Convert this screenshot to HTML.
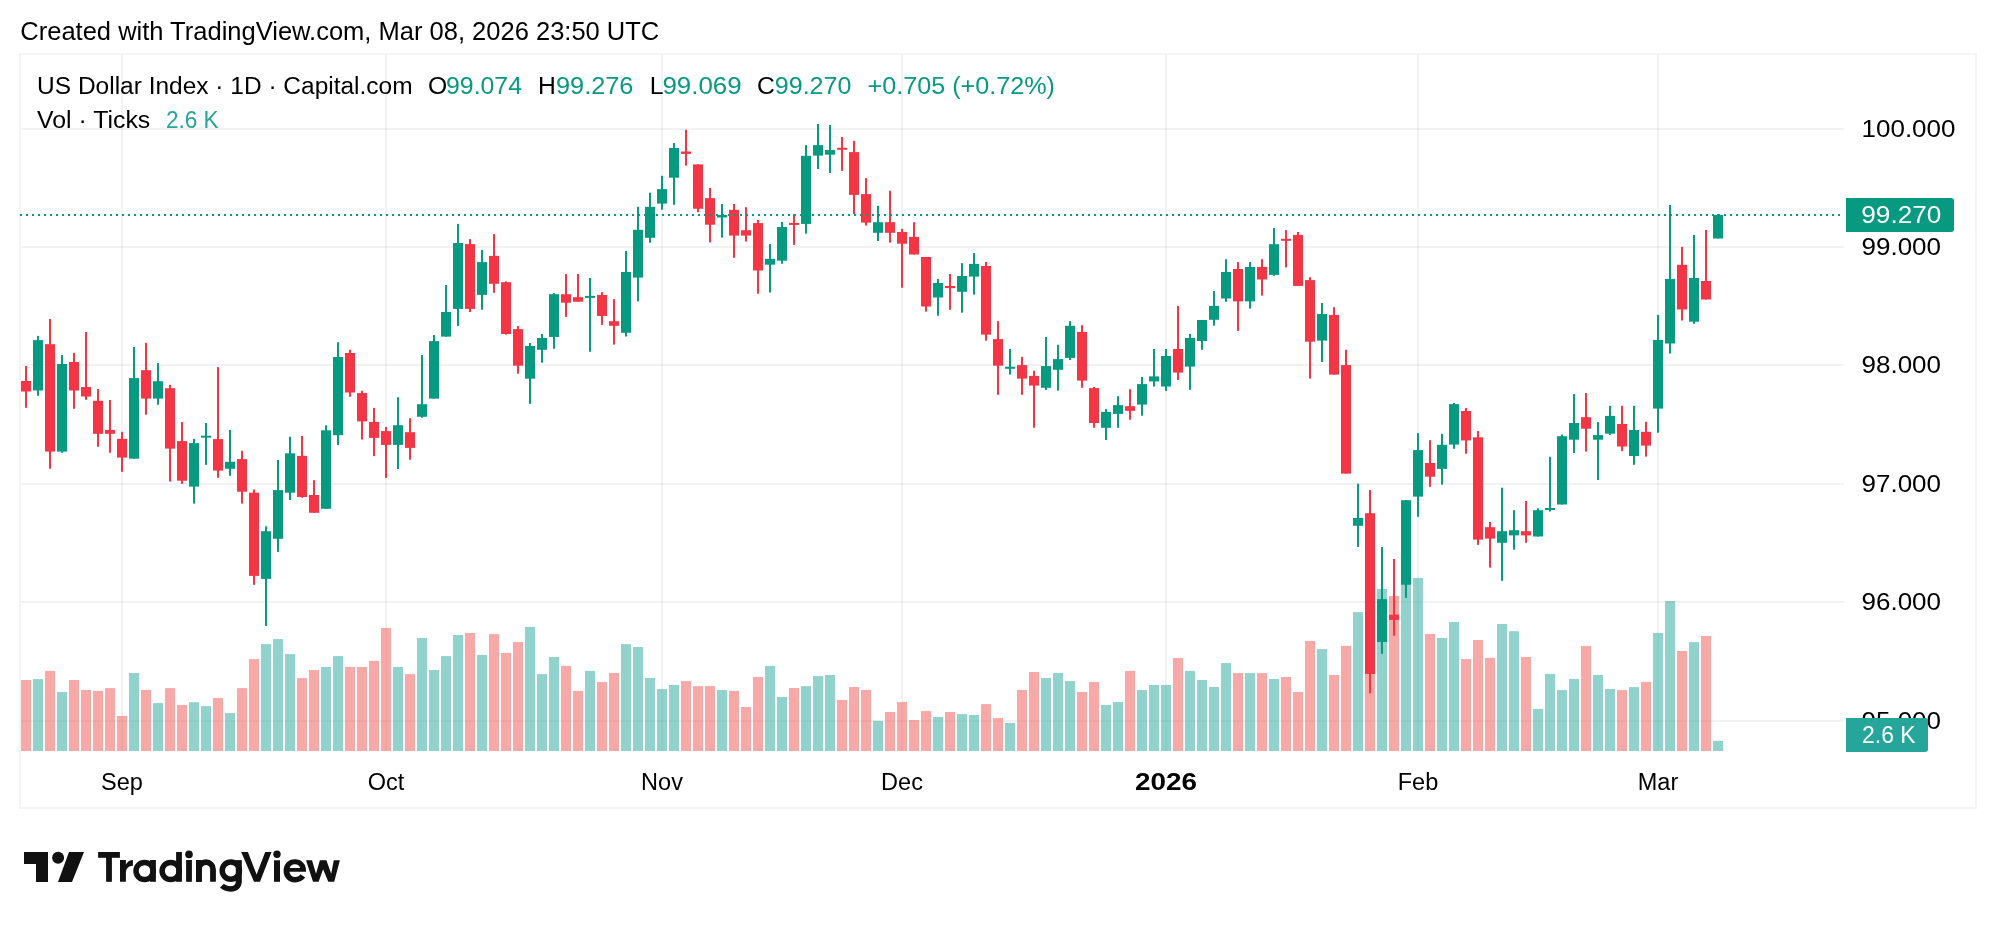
<!DOCTYPE html>
<html><head><meta charset="utf-8"><style>
html,body{margin:0;padding:0;background:#fff;width:1996px;height:928px;overflow:hidden}
svg{will-change:transform}
</style></head><body>
<svg width="1996" height="928" viewBox="0 0 1996 928" style="display:block">
<rect x="0" y="0" width="1996" height="928" fill="#ffffff"/>
<rect x="20" y="54" width="1956" height="754" fill="none" stroke="#F4F4F4" stroke-width="2"/>
<rect x="21" y="128" width="1823" height="2" fill="rgba(0,0,0,0.05)"/>
<rect x="21" y="246" width="1823" height="2" fill="rgba(0,0,0,0.05)"/>
<rect x="21" y="364" width="1823" height="2" fill="rgba(0,0,0,0.05)"/>
<rect x="21" y="483" width="1823" height="2" fill="rgba(0,0,0,0.05)"/>
<rect x="21" y="601" width="1823" height="2" fill="rgba(0,0,0,0.05)"/>
<rect x="21" y="720" width="1823" height="2" fill="rgba(0,0,0,0.05)"/>
<rect x="121" y="55" width="2" height="696" fill="rgba(0,0,0,0.05)"/>
<rect x="385" y="55" width="2" height="696" fill="rgba(0,0,0,0.05)"/>
<rect x="661" y="55" width="2" height="696" fill="rgba(0,0,0,0.05)"/>
<rect x="901" y="55" width="2" height="696" fill="rgba(0,0,0,0.05)"/>
<rect x="1165" y="55" width="2" height="696" fill="rgba(0,0,0,0.05)"/>
<rect x="1417" y="55" width="2" height="696" fill="rgba(0,0,0,0.05)"/>
<rect x="1657" y="55" width="2" height="696" fill="rgba(0,0,0,0.05)"/>
<rect x="21" y="680.0" width="10" height="71.0" fill="rgba(239,83,80,0.5)"/>
<rect x="33" y="679.1" width="10" height="71.9" fill="rgba(38,166,154,0.5)"/>
<rect x="45" y="670.9" width="10" height="80.1" fill="rgba(239,83,80,0.5)"/>
<rect x="57" y="692.0" width="10" height="59.0" fill="rgba(38,166,154,0.5)"/>
<rect x="69" y="680.0" width="10" height="71.0" fill="rgba(239,83,80,0.5)"/>
<rect x="81" y="690.0" width="10" height="61.0" fill="rgba(239,83,80,0.5)"/>
<rect x="93" y="690.9" width="10" height="60.1" fill="rgba(239,83,80,0.5)"/>
<rect x="105" y="688.1" width="10" height="62.9" fill="rgba(239,83,80,0.5)"/>
<rect x="117" y="715.9" width="10" height="35.1" fill="rgba(239,83,80,0.5)"/>
<rect x="129" y="673.0" width="10" height="78.0" fill="rgba(38,166,154,0.5)"/>
<rect x="141" y="690.0" width="10" height="61.0" fill="rgba(239,83,80,0.5)"/>
<rect x="153" y="703.1" width="10" height="47.9" fill="rgba(38,166,154,0.5)"/>
<rect x="165" y="688.1" width="10" height="62.9" fill="rgba(239,83,80,0.5)"/>
<rect x="177" y="705.0" width="10" height="46.0" fill="rgba(239,83,80,0.5)"/>
<rect x="189" y="702.2" width="10" height="48.8" fill="rgba(38,166,154,0.5)"/>
<rect x="201" y="706.1" width="10" height="44.9" fill="rgba(38,166,154,0.5)"/>
<rect x="213" y="698.0" width="10" height="53.0" fill="rgba(239,83,80,0.5)"/>
<rect x="225" y="713.1" width="10" height="37.9" fill="rgba(38,166,154,0.5)"/>
<rect x="237" y="688.1" width="10" height="62.9" fill="rgba(239,83,80,0.5)"/>
<rect x="249" y="659.1" width="10" height="91.9" fill="rgba(239,83,80,0.5)"/>
<rect x="261" y="644.1" width="10" height="106.9" fill="rgba(38,166,154,0.5)"/>
<rect x="273" y="639.1" width="10" height="111.9" fill="rgba(38,166,154,0.5)"/>
<rect x="285" y="654.1" width="10" height="96.9" fill="rgba(38,166,154,0.5)"/>
<rect x="297" y="678.1" width="10" height="72.9" fill="rgba(239,83,80,0.5)"/>
<rect x="309" y="670.0" width="10" height="81.0" fill="rgba(239,83,80,0.5)"/>
<rect x="321" y="667.0" width="10" height="84.0" fill="rgba(38,166,154,0.5)"/>
<rect x="333" y="656.1" width="10" height="94.9" fill="rgba(38,166,154,0.5)"/>
<rect x="345" y="667.0" width="10" height="84.0" fill="rgba(239,83,80,0.5)"/>
<rect x="357" y="667.0" width="10" height="84.0" fill="rgba(239,83,80,0.5)"/>
<rect x="369" y="660.9" width="10" height="90.1" fill="rgba(239,83,80,0.5)"/>
<rect x="381" y="628.0" width="10" height="123.0" fill="rgba(239,83,80,0.5)"/>
<rect x="393" y="667.0" width="10" height="84.0" fill="rgba(38,166,154,0.5)"/>
<rect x="405" y="674.1" width="10" height="76.9" fill="rgba(239,83,80,0.5)"/>
<rect x="417" y="638.0" width="10" height="113.0" fill="rgba(38,166,154,0.5)"/>
<rect x="429" y="670.0" width="10" height="81.0" fill="rgba(38,166,154,0.5)"/>
<rect x="441" y="656.1" width="10" height="94.9" fill="rgba(38,166,154,0.5)"/>
<rect x="453" y="635.0" width="10" height="116.0" fill="rgba(38,166,154,0.5)"/>
<rect x="465" y="633.0" width="10" height="118.0" fill="rgba(239,83,80,0.5)"/>
<rect x="477" y="655.0" width="10" height="96.0" fill="rgba(38,166,154,0.5)"/>
<rect x="489" y="634.1" width="10" height="116.9" fill="rgba(239,83,80,0.5)"/>
<rect x="501" y="653.0" width="10" height="98.0" fill="rgba(239,83,80,0.5)"/>
<rect x="513" y="642.0" width="10" height="109.0" fill="rgba(239,83,80,0.5)"/>
<rect x="525" y="626.9" width="10" height="124.1" fill="rgba(38,166,154,0.5)"/>
<rect x="537" y="674.1" width="10" height="76.9" fill="rgba(38,166,154,0.5)"/>
<rect x="549" y="657.0" width="10" height="94.0" fill="rgba(38,166,154,0.5)"/>
<rect x="561" y="665.9" width="10" height="85.1" fill="rgba(239,83,80,0.5)"/>
<rect x="573" y="690.9" width="10" height="60.1" fill="rgba(239,83,80,0.5)"/>
<rect x="585" y="670.9" width="10" height="80.1" fill="rgba(38,166,154,0.5)"/>
<rect x="597" y="682.0" width="10" height="69.0" fill="rgba(239,83,80,0.5)"/>
<rect x="609" y="673.0" width="10" height="78.0" fill="rgba(239,83,80,0.5)"/>
<rect x="621" y="644.1" width="10" height="106.9" fill="rgba(38,166,154,0.5)"/>
<rect x="633" y="647.0" width="10" height="104.0" fill="rgba(38,166,154,0.5)"/>
<rect x="645" y="678.0" width="10" height="73.0" fill="rgba(38,166,154,0.5)"/>
<rect x="657" y="689.1" width="10" height="61.9" fill="rgba(38,166,154,0.5)"/>
<rect x="669" y="685.0" width="10" height="66.0" fill="rgba(38,166,154,0.5)"/>
<rect x="681" y="681.1" width="10" height="69.9" fill="rgba(239,83,80,0.5)"/>
<rect x="693" y="686.1" width="10" height="64.9" fill="rgba(239,83,80,0.5)"/>
<rect x="705" y="686.1" width="10" height="64.9" fill="rgba(239,83,80,0.5)"/>
<rect x="717" y="690.0" width="10" height="61.0" fill="rgba(38,166,154,0.5)"/>
<rect x="729" y="690.9" width="10" height="60.1" fill="rgba(239,83,80,0.5)"/>
<rect x="741" y="707.0" width="10" height="44.0" fill="rgba(239,83,80,0.5)"/>
<rect x="753" y="677.0" width="10" height="74.0" fill="rgba(239,83,80,0.5)"/>
<rect x="765" y="665.9" width="10" height="85.1" fill="rgba(38,166,154,0.5)"/>
<rect x="777" y="697.0" width="10" height="54.0" fill="rgba(38,166,154,0.5)"/>
<rect x="789" y="688.0" width="10" height="63.0" fill="rgba(239,83,80,0.5)"/>
<rect x="801" y="686.1" width="10" height="64.9" fill="rgba(38,166,154,0.5)"/>
<rect x="813" y="676.1" width="10" height="74.9" fill="rgba(38,166,154,0.5)"/>
<rect x="825" y="675.0" width="10" height="76.0" fill="rgba(38,166,154,0.5)"/>
<rect x="837" y="700.0" width="10" height="51.0" fill="rgba(239,83,80,0.5)"/>
<rect x="849" y="687.0" width="10" height="64.0" fill="rgba(239,83,80,0.5)"/>
<rect x="861" y="690.0" width="10" height="61.0" fill="rgba(239,83,80,0.5)"/>
<rect x="873" y="720.9" width="10" height="30.1" fill="rgba(38,166,154,0.5)"/>
<rect x="885" y="712.0" width="10" height="39.0" fill="rgba(239,83,80,0.5)"/>
<rect x="897" y="702.0" width="10" height="49.0" fill="rgba(239,83,80,0.5)"/>
<rect x="909" y="720.0" width="10" height="31.0" fill="rgba(239,83,80,0.5)"/>
<rect x="921" y="711.1" width="10" height="39.9" fill="rgba(239,83,80,0.5)"/>
<rect x="933" y="717.0" width="10" height="34.0" fill="rgba(38,166,154,0.5)"/>
<rect x="945" y="712.0" width="10" height="39.0" fill="rgba(239,83,80,0.5)"/>
<rect x="957" y="714.1" width="10" height="36.9" fill="rgba(38,166,154,0.5)"/>
<rect x="969" y="715.0" width="10" height="36.0" fill="rgba(38,166,154,0.5)"/>
<rect x="981" y="704.1" width="10" height="46.9" fill="rgba(239,83,80,0.5)"/>
<rect x="993" y="718.0" width="10" height="33.0" fill="rgba(239,83,80,0.5)"/>
<rect x="1005" y="723.0" width="10" height="28.0" fill="rgba(38,166,154,0.5)"/>
<rect x="1017" y="690.0" width="10" height="61.0" fill="rgba(239,83,80,0.5)"/>
<rect x="1029" y="672.0" width="10" height="79.0" fill="rgba(239,83,80,0.5)"/>
<rect x="1041" y="678.0" width="10" height="73.0" fill="rgba(38,166,154,0.5)"/>
<rect x="1053" y="673.0" width="10" height="78.0" fill="rgba(38,166,154,0.5)"/>
<rect x="1065" y="681.1" width="10" height="69.9" fill="rgba(38,166,154,0.5)"/>
<rect x="1077" y="692.0" width="10" height="59.0" fill="rgba(239,83,80,0.5)"/>
<rect x="1089" y="682.0" width="10" height="69.0" fill="rgba(239,83,80,0.5)"/>
<rect x="1101" y="705.0" width="10" height="46.0" fill="rgba(38,166,154,0.5)"/>
<rect x="1113" y="702.0" width="10" height="49.0" fill="rgba(38,166,154,0.5)"/>
<rect x="1125" y="670.9" width="10" height="80.1" fill="rgba(239,83,80,0.5)"/>
<rect x="1137" y="690.0" width="10" height="61.0" fill="rgba(38,166,154,0.5)"/>
<rect x="1149" y="685.0" width="10" height="66.0" fill="rgba(38,166,154,0.5)"/>
<rect x="1161" y="685.0" width="10" height="66.0" fill="rgba(38,166,154,0.5)"/>
<rect x="1173" y="658.0" width="10" height="93.0" fill="rgba(239,83,80,0.5)"/>
<rect x="1185" y="670.9" width="10" height="80.1" fill="rgba(38,166,154,0.5)"/>
<rect x="1197" y="680.0" width="10" height="71.0" fill="rgba(38,166,154,0.5)"/>
<rect x="1209" y="687.0" width="10" height="64.0" fill="rgba(38,166,154,0.5)"/>
<rect x="1221" y="663.1" width="10" height="87.9" fill="rgba(38,166,154,0.5)"/>
<rect x="1233" y="673.1" width="10" height="77.9" fill="rgba(239,83,80,0.5)"/>
<rect x="1245" y="673.1" width="10" height="77.9" fill="rgba(38,166,154,0.5)"/>
<rect x="1257" y="673.1" width="10" height="77.9" fill="rgba(239,83,80,0.5)"/>
<rect x="1269" y="679.0" width="10" height="72.0" fill="rgba(38,166,154,0.5)"/>
<rect x="1281" y="677.0" width="10" height="74.0" fill="rgba(239,83,80,0.5)"/>
<rect x="1293" y="692.0" width="10" height="59.0" fill="rgba(239,83,80,0.5)"/>
<rect x="1305" y="641.0" width="10" height="110.0" fill="rgba(239,83,80,0.5)"/>
<rect x="1317" y="649.1" width="10" height="101.9" fill="rgba(38,166,154,0.5)"/>
<rect x="1329" y="675.0" width="10" height="76.0" fill="rgba(239,83,80,0.5)"/>
<rect x="1341" y="645.9" width="10" height="105.1" fill="rgba(239,83,80,0.5)"/>
<rect x="1353" y="612.1" width="10" height="138.9" fill="rgba(38,166,154,0.5)"/>
<rect x="1365" y="673.7" width="10" height="77.3" fill="rgba(239,83,80,0.5)"/>
<rect x="1377" y="588.9" width="10" height="162.1" fill="rgba(38,166,154,0.5)"/>
<rect x="1389" y="595.9" width="10" height="155.1" fill="rgba(239,83,80,0.5)"/>
<rect x="1401" y="584.6" width="10" height="166.4" fill="rgba(38,166,154,0.5)"/>
<rect x="1413" y="578.0" width="10" height="173.0" fill="rgba(38,166,154,0.5)"/>
<rect x="1425" y="634.0" width="10" height="117.0" fill="rgba(239,83,80,0.5)"/>
<rect x="1437" y="638.0" width="10" height="113.0" fill="rgba(38,166,154,0.5)"/>
<rect x="1449" y="622.0" width="10" height="129.0" fill="rgba(38,166,154,0.5)"/>
<rect x="1461" y="659.1" width="10" height="91.9" fill="rgba(239,83,80,0.5)"/>
<rect x="1473" y="640.0" width="10" height="111.0" fill="rgba(239,83,80,0.5)"/>
<rect x="1485" y="657.9" width="10" height="93.1" fill="rgba(239,83,80,0.5)"/>
<rect x="1497" y="624.0" width="10" height="127.0" fill="rgba(38,166,154,0.5)"/>
<rect x="1509" y="631.2" width="10" height="119.8" fill="rgba(38,166,154,0.5)"/>
<rect x="1521" y="657.0" width="10" height="94.0" fill="rgba(239,83,80,0.5)"/>
<rect x="1533" y="708.9" width="10" height="42.1" fill="rgba(38,166,154,0.5)"/>
<rect x="1545" y="673.9" width="10" height="77.1" fill="rgba(38,166,154,0.5)"/>
<rect x="1557" y="690.1" width="10" height="60.9" fill="rgba(38,166,154,0.5)"/>
<rect x="1569" y="678.9" width="10" height="72.1" fill="rgba(38,166,154,0.5)"/>
<rect x="1581" y="646.0" width="10" height="105.0" fill="rgba(239,83,80,0.5)"/>
<rect x="1593" y="675.0" width="10" height="76.0" fill="rgba(38,166,154,0.5)"/>
<rect x="1605" y="689.0" width="10" height="62.0" fill="rgba(38,166,154,0.5)"/>
<rect x="1617" y="690.1" width="10" height="60.9" fill="rgba(239,83,80,0.5)"/>
<rect x="1629" y="687.1" width="10" height="63.9" fill="rgba(38,166,154,0.5)"/>
<rect x="1641" y="681.9" width="10" height="69.1" fill="rgba(239,83,80,0.5)"/>
<rect x="1653" y="633.0" width="10" height="118.0" fill="rgba(38,166,154,0.5)"/>
<rect x="1665" y="601.0" width="10" height="150.0" fill="rgba(38,166,154,0.5)"/>
<rect x="1677" y="651.0" width="10" height="100.0" fill="rgba(239,83,80,0.5)"/>
<rect x="1689" y="642.1" width="10" height="108.9" fill="rgba(38,166,154,0.5)"/>
<rect x="1701" y="636.0" width="10" height="115.0" fill="rgba(239,83,80,0.5)"/>
<rect x="1713" y="740.9" width="10" height="10.1" fill="rgba(38,166,154,0.5)"/>
<rect x="25" y="365.9" width="2" height="41.9" fill="#F23645"/>
<rect x="21" y="381.0" width="10" height="10.5" fill="#F23645"/>
<rect x="37" y="335.9" width="2" height="59.9" fill="#089981"/>
<rect x="33" y="340.1" width="10" height="50.4" fill="#089981"/>
<rect x="49" y="319.0" width="2" height="149.7" fill="#F23645"/>
<rect x="45" y="344.2" width="10" height="107.4" fill="#F23645"/>
<rect x="61" y="355.1" width="2" height="97.7" fill="#089981"/>
<rect x="57" y="364.0" width="10" height="87.6" fill="#089981"/>
<rect x="73" y="352.9" width="2" height="55.9" fill="#F23645"/>
<rect x="69" y="362.0" width="10" height="28.5" fill="#F23645"/>
<rect x="85" y="332.0" width="2" height="67.8" fill="#F23645"/>
<rect x="81" y="387.0" width="10" height="9.5" fill="#F23645"/>
<rect x="97" y="389.0" width="2" height="57.8" fill="#F23645"/>
<rect x="93" y="400.8" width="10" height="33.0" fill="#F23645"/>
<rect x="109" y="400.0" width="2" height="52.8" fill="#F23645"/>
<rect x="105" y="429.9" width="10" height="3.9" fill="#F23645"/>
<rect x="121" y="431.8" width="2" height="40.0" fill="#F23645"/>
<rect x="117" y="438.8" width="10" height="18.8" fill="#F23645"/>
<rect x="133" y="347.0" width="2" height="111.7" fill="#089981"/>
<rect x="129" y="378.1" width="10" height="80.6" fill="#089981"/>
<rect x="145" y="342.9" width="2" height="71.8" fill="#F23645"/>
<rect x="141" y="370.2" width="10" height="28.4" fill="#F23645"/>
<rect x="157" y="363.1" width="2" height="41.6" fill="#089981"/>
<rect x="153" y="381.2" width="10" height="17.4" fill="#089981"/>
<rect x="169" y="384.9" width="2" height="96.7" fill="#F23645"/>
<rect x="165" y="388.2" width="10" height="60.4" fill="#F23645"/>
<rect x="181" y="422.1" width="2" height="61.7" fill="#F23645"/>
<rect x="177" y="441.1" width="10" height="39.6" fill="#F23645"/>
<rect x="193" y="438.9" width="2" height="64.7" fill="#089981"/>
<rect x="189" y="443.1" width="10" height="43.5" fill="#089981"/>
<rect x="205" y="423.0" width="2" height="41.9" fill="#089981"/>
<rect x="201" y="435.7" width="10" height="2.0" fill="#089981"/>
<rect x="217" y="367.1" width="2" height="110.7" fill="#F23645"/>
<rect x="213" y="439.1" width="10" height="31.5" fill="#F23645"/>
<rect x="229" y="430.0" width="2" height="45.8" fill="#089981"/>
<rect x="225" y="461.8" width="10" height="7.0" fill="#089981"/>
<rect x="241" y="450.8" width="2" height="52.8" fill="#F23645"/>
<rect x="237" y="459.1" width="10" height="32.6" fill="#F23645"/>
<rect x="253" y="489.5" width="2" height="95.3" fill="#F23645"/>
<rect x="249" y="492.7" width="10" height="83.2" fill="#F23645"/>
<rect x="265" y="526.3" width="2" height="99.6" fill="#089981"/>
<rect x="261" y="531.2" width="10" height="47.7" fill="#089981"/>
<rect x="277" y="459.9" width="2" height="92.0" fill="#089981"/>
<rect x="273" y="490.1" width="10" height="48.7" fill="#089981"/>
<rect x="289" y="436.8" width="2" height="63.2" fill="#089981"/>
<rect x="285" y="453.3" width="10" height="39.4" fill="#089981"/>
<rect x="301" y="435.9" width="2" height="61.8" fill="#F23645"/>
<rect x="297" y="455.9" width="10" height="41.1" fill="#F23645"/>
<rect x="313" y="480.2" width="2" height="32.6" fill="#F23645"/>
<rect x="309" y="495.0" width="10" height="17.8" fill="#F23645"/>
<rect x="325" y="425.3" width="2" height="83.5" fill="#089981"/>
<rect x="321" y="430.3" width="10" height="78.5" fill="#089981"/>
<rect x="337" y="342.2" width="2" height="102.9" fill="#089981"/>
<rect x="333" y="357.0" width="10" height="78.2" fill="#089981"/>
<rect x="349" y="349.7" width="2" height="47.0" fill="#F23645"/>
<rect x="345" y="353.0" width="10" height="39.5" fill="#F23645"/>
<rect x="361" y="390.8" width="2" height="48.7" fill="#F23645"/>
<rect x="357" y="393.1" width="10" height="28.3" fill="#F23645"/>
<rect x="373" y="407.9" width="2" height="48.2" fill="#F23645"/>
<rect x="369" y="421.9" width="10" height="16.0" fill="#F23645"/>
<rect x="385" y="426.9" width="2" height="51.0" fill="#F23645"/>
<rect x="381" y="431.1" width="10" height="13.8" fill="#F23645"/>
<rect x="397" y="397.2" width="2" height="71.8" fill="#089981"/>
<rect x="393" y="425.2" width="10" height="19.7" fill="#089981"/>
<rect x="409" y="418.2" width="2" height="41.5" fill="#F23645"/>
<rect x="405" y="432.2" width="10" height="15.7" fill="#F23645"/>
<rect x="421" y="355.1" width="2" height="62.6" fill="#089981"/>
<rect x="417" y="404.2" width="10" height="12.6" fill="#089981"/>
<rect x="433" y="335.0" width="2" height="63.6" fill="#089981"/>
<rect x="429" y="341.1" width="10" height="57.5" fill="#089981"/>
<rect x="445" y="285.0" width="2" height="51.6" fill="#089981"/>
<rect x="441" y="312.0" width="10" height="24.6" fill="#089981"/>
<rect x="457" y="223.9" width="2" height="102.1" fill="#089981"/>
<rect x="453" y="243.0" width="10" height="65.9" fill="#089981"/>
<rect x="469" y="239.1" width="2" height="72.9" fill="#F23645"/>
<rect x="465" y="244.1" width="10" height="64.8" fill="#F23645"/>
<rect x="481" y="250.0" width="2" height="59.7" fill="#089981"/>
<rect x="477" y="262.1" width="10" height="32.8" fill="#089981"/>
<rect x="493" y="234.0" width="2" height="58.8" fill="#F23645"/>
<rect x="489" y="255.9" width="10" height="27.9" fill="#F23645"/>
<rect x="505" y="281.4" width="2" height="53.2" fill="#F23645"/>
<rect x="501" y="282.2" width="10" height="51.8" fill="#F23645"/>
<rect x="517" y="326.1" width="2" height="47.6" fill="#F23645"/>
<rect x="513" y="329.1" width="10" height="36.6" fill="#F23645"/>
<rect x="529" y="343.0" width="2" height="60.8" fill="#089981"/>
<rect x="525" y="346.0" width="10" height="32.7" fill="#089981"/>
<rect x="541" y="334.0" width="2" height="28.7" fill="#089981"/>
<rect x="537" y="338.0" width="10" height="11.8" fill="#089981"/>
<rect x="553" y="293.2" width="2" height="55.6" fill="#089981"/>
<rect x="549" y="294.2" width="10" height="42.8" fill="#089981"/>
<rect x="565" y="274.0" width="2" height="42.9" fill="#F23645"/>
<rect x="561" y="294.2" width="10" height="8.5" fill="#F23645"/>
<rect x="577" y="274.0" width="2" height="27.7" fill="#F23645"/>
<rect x="573" y="297.2" width="10" height="4.5" fill="#F23645"/>
<rect x="589" y="278.0" width="2" height="73.8" fill="#089981"/>
<rect x="585" y="295.9" width="10" height="2.0" fill="#089981"/>
<rect x="601" y="292.2" width="2" height="32.7" fill="#F23645"/>
<rect x="597" y="295.0" width="10" height="20.9" fill="#F23645"/>
<rect x="613" y="299.1" width="2" height="45.5" fill="#F23645"/>
<rect x="609" y="321.2" width="10" height="4.6" fill="#F23645"/>
<rect x="625" y="250.9" width="2" height="85.6" fill="#089981"/>
<rect x="621" y="272.0" width="10" height="60.8" fill="#089981"/>
<rect x="637" y="206.8" width="2" height="94.5" fill="#089981"/>
<rect x="633" y="229.8" width="10" height="47.8" fill="#089981"/>
<rect x="649" y="192.7" width="2" height="50.0" fill="#089981"/>
<rect x="645" y="206.8" width="10" height="31.0" fill="#089981"/>
<rect x="661" y="175.8" width="2" height="33.9" fill="#089981"/>
<rect x="657" y="189.1" width="10" height="14.5" fill="#089981"/>
<rect x="673" y="143.0" width="2" height="61.8" fill="#089981"/>
<rect x="669" y="147.9" width="10" height="29.8" fill="#089981"/>
<rect x="685" y="129.7" width="2" height="35.9" fill="#F23645"/>
<rect x="681" y="151.5" width="10" height="2.4" fill="#F23645"/>
<rect x="697" y="164.4" width="2" height="47.7" fill="#F23645"/>
<rect x="693" y="164.4" width="10" height="44.3" fill="#F23645"/>
<rect x="709" y="187.9" width="2" height="54.5" fill="#F23645"/>
<rect x="705" y="198.1" width="10" height="26.6" fill="#F23645"/>
<rect x="721" y="204.1" width="2" height="33.5" fill="#089981"/>
<rect x="717" y="215.0" width="10" height="2.5" fill="#089981"/>
<rect x="733" y="203.9" width="2" height="53.9" fill="#F23645"/>
<rect x="729" y="209.8" width="10" height="25.8" fill="#F23645"/>
<rect x="745" y="207.2" width="2" height="34.3" fill="#F23645"/>
<rect x="741" y="230.2" width="10" height="5.4" fill="#F23645"/>
<rect x="757" y="220.0" width="2" height="73.7" fill="#F23645"/>
<rect x="753" y="223.1" width="10" height="47.4" fill="#F23645"/>
<rect x="769" y="244.1" width="2" height="48.4" fill="#089981"/>
<rect x="765" y="258.8" width="10" height="5.9" fill="#089981"/>
<rect x="781" y="221.9" width="2" height="41.8" fill="#089981"/>
<rect x="777" y="227.0" width="10" height="33.7" fill="#089981"/>
<rect x="793" y="214.1" width="2" height="30.8" fill="#F23645"/>
<rect x="789" y="222.9" width="10" height="2.0" fill="#F23645"/>
<rect x="805" y="145.1" width="2" height="88.6" fill="#089981"/>
<rect x="801" y="155.8" width="10" height="68.1" fill="#089981"/>
<rect x="817" y="123.9" width="2" height="45.1" fill="#089981"/>
<rect x="813" y="145.1" width="10" height="10.5" fill="#089981"/>
<rect x="829" y="124.9" width="2" height="48.0" fill="#089981"/>
<rect x="825" y="150.0" width="10" height="4.7" fill="#089981"/>
<rect x="841" y="137.0" width="2" height="33.9" fill="#F23645"/>
<rect x="837" y="147.8" width="10" height="2.0" fill="#F23645"/>
<rect x="853" y="140.9" width="2" height="73.1" fill="#F23645"/>
<rect x="849" y="152.1" width="10" height="42.8" fill="#F23645"/>
<rect x="865" y="178.1" width="2" height="47.5" fill="#F23645"/>
<rect x="861" y="194.1" width="10" height="28.5" fill="#F23645"/>
<rect x="877" y="205.8" width="2" height="35.2" fill="#089981"/>
<rect x="873" y="222.2" width="10" height="10.6" fill="#089981"/>
<rect x="889" y="190.8" width="2" height="51.8" fill="#F23645"/>
<rect x="885" y="222.2" width="10" height="10.6" fill="#F23645"/>
<rect x="901" y="228.9" width="2" height="58.8" fill="#F23645"/>
<rect x="897" y="232.0" width="10" height="11.7" fill="#F23645"/>
<rect x="913" y="222.2" width="2" height="32.3" fill="#F23645"/>
<rect x="909" y="236.9" width="10" height="17.6" fill="#F23645"/>
<rect x="925" y="257.0" width="2" height="54.6" fill="#F23645"/>
<rect x="921" y="257.0" width="10" height="49.5" fill="#F23645"/>
<rect x="937" y="278.9" width="2" height="36.8" fill="#089981"/>
<rect x="933" y="283.0" width="10" height="14.5" fill="#089981"/>
<rect x="949" y="274.0" width="2" height="35.8" fill="#F23645"/>
<rect x="945" y="286.0" width="10" height="2.1" fill="#F23645"/>
<rect x="961" y="263.1" width="2" height="49.6" fill="#089981"/>
<rect x="957" y="276.0" width="10" height="15.8" fill="#089981"/>
<rect x="973" y="253.1" width="2" height="41.5" fill="#089981"/>
<rect x="969" y="263.9" width="10" height="12.7" fill="#089981"/>
<rect x="985" y="261.9" width="2" height="78.8" fill="#F23645"/>
<rect x="981" y="266.0" width="10" height="68.6" fill="#F23645"/>
<rect x="997" y="321.1" width="2" height="73.7" fill="#F23645"/>
<rect x="993" y="339.1" width="10" height="26.6" fill="#F23645"/>
<rect x="1009" y="348.9" width="2" height="25.6" fill="#089981"/>
<rect x="1005" y="366.7" width="10" height="2.1" fill="#089981"/>
<rect x="1021" y="356.9" width="2" height="37.9" fill="#F23645"/>
<rect x="1017" y="365.1" width="10" height="13.5" fill="#F23645"/>
<rect x="1033" y="370.8" width="2" height="56.9" fill="#F23645"/>
<rect x="1029" y="375.9" width="10" height="9.7" fill="#F23645"/>
<rect x="1045" y="337.0" width="2" height="52.9" fill="#089981"/>
<rect x="1041" y="366.1" width="10" height="21.7" fill="#089981"/>
<rect x="1057" y="344.8" width="2" height="45.9" fill="#089981"/>
<rect x="1053" y="359.1" width="10" height="10.7" fill="#089981"/>
<rect x="1069" y="321.1" width="2" height="38.9" fill="#089981"/>
<rect x="1065" y="325.8" width="10" height="32.1" fill="#089981"/>
<rect x="1081" y="325.2" width="2" height="62.6" fill="#F23645"/>
<rect x="1077" y="331.9" width="10" height="48.7" fill="#F23645"/>
<rect x="1093" y="387.0" width="2" height="40.8" fill="#F23645"/>
<rect x="1089" y="388.1" width="10" height="34.9" fill="#F23645"/>
<rect x="1105" y="409.1" width="2" height="30.9" fill="#089981"/>
<rect x="1101" y="411.9" width="10" height="15.9" fill="#089981"/>
<rect x="1117" y="396.2" width="2" height="31.6" fill="#089981"/>
<rect x="1113" y="405.1" width="10" height="8.8" fill="#089981"/>
<rect x="1129" y="389.2" width="2" height="30.5" fill="#F23645"/>
<rect x="1125" y="406.2" width="10" height="4.6" fill="#F23645"/>
<rect x="1141" y="377.0" width="2" height="38.7" fill="#089981"/>
<rect x="1137" y="384.1" width="10" height="20.5" fill="#089981"/>
<rect x="1153" y="349.0" width="2" height="37.5" fill="#089981"/>
<rect x="1149" y="376.4" width="10" height="5.0" fill="#089981"/>
<rect x="1165" y="349.0" width="2" height="41.9" fill="#089981"/>
<rect x="1161" y="356.0" width="10" height="30.5" fill="#089981"/>
<rect x="1177" y="305.9" width="2" height="74.0" fill="#F23645"/>
<rect x="1173" y="349.0" width="10" height="23.6" fill="#F23645"/>
<rect x="1189" y="333.9" width="2" height="55.9" fill="#089981"/>
<rect x="1185" y="337.9" width="10" height="28.7" fill="#089981"/>
<rect x="1201" y="320.0" width="2" height="29.8" fill="#089981"/>
<rect x="1197" y="320.0" width="10" height="21.0" fill="#089981"/>
<rect x="1213" y="291.1" width="2" height="34.6" fill="#089981"/>
<rect x="1209" y="305.9" width="10" height="13.9" fill="#089981"/>
<rect x="1225" y="259.2" width="2" height="42.6" fill="#089981"/>
<rect x="1221" y="272.0" width="10" height="26.5" fill="#089981"/>
<rect x="1237" y="262.1" width="2" height="68.8" fill="#F23645"/>
<rect x="1233" y="269.0" width="10" height="32.4" fill="#F23645"/>
<rect x="1249" y="262.1" width="2" height="46.5" fill="#089981"/>
<rect x="1245" y="266.9" width="10" height="34.5" fill="#089981"/>
<rect x="1261" y="259.2" width="2" height="36.4" fill="#F23645"/>
<rect x="1257" y="266.9" width="10" height="12.6" fill="#F23645"/>
<rect x="1273" y="228.1" width="2" height="47.7" fill="#089981"/>
<rect x="1269" y="244.2" width="10" height="30.7" fill="#089981"/>
<rect x="1285" y="230.1" width="2" height="37.4" fill="#F23645"/>
<rect x="1281" y="238.8" width="10" height="2.0" fill="#F23645"/>
<rect x="1297" y="232.0" width="2" height="53.9" fill="#F23645"/>
<rect x="1293" y="234.9" width="10" height="51.0" fill="#F23645"/>
<rect x="1309" y="277.2" width="2" height="101.4" fill="#F23645"/>
<rect x="1305" y="280.1" width="10" height="61.6" fill="#F23645"/>
<rect x="1321" y="303.0" width="2" height="58.9" fill="#089981"/>
<rect x="1317" y="314.0" width="10" height="26.6" fill="#089981"/>
<rect x="1333" y="307.2" width="2" height="67.4" fill="#F23645"/>
<rect x="1329" y="314.9" width="10" height="59.7" fill="#F23645"/>
<rect x="1345" y="349.8" width="2" height="123.8" fill="#F23645"/>
<rect x="1341" y="365.1" width="10" height="108.5" fill="#F23645"/>
<rect x="1357" y="483.6" width="2" height="63.3" fill="#089981"/>
<rect x="1353" y="517.9" width="10" height="7.9" fill="#089981"/>
<rect x="1369" y="490.0" width="2" height="203.4" fill="#F23645"/>
<rect x="1365" y="513.2" width="10" height="160.8" fill="#F23645"/>
<rect x="1381" y="547.1" width="2" height="106.7" fill="#089981"/>
<rect x="1377" y="599.1" width="10" height="42.9" fill="#089981"/>
<rect x="1393" y="559.0" width="2" height="76.8" fill="#F23645"/>
<rect x="1389" y="614.7" width="10" height="5.2" fill="#F23645"/>
<rect x="1405" y="500.2" width="2" height="97.7" fill="#089981"/>
<rect x="1401" y="500.2" width="10" height="84.6" fill="#089981"/>
<rect x="1417" y="433.1" width="2" height="83.7" fill="#089981"/>
<rect x="1413" y="450.1" width="10" height="46.5" fill="#089981"/>
<rect x="1429" y="440.2" width="2" height="46.6" fill="#F23645"/>
<rect x="1425" y="463.0" width="10" height="13.7" fill="#F23645"/>
<rect x="1441" y="433.8" width="2" height="50.8" fill="#089981"/>
<rect x="1437" y="444.8" width="10" height="24.1" fill="#089981"/>
<rect x="1453" y="403.0" width="2" height="45.8" fill="#089981"/>
<rect x="1449" y="404.1" width="10" height="40.5" fill="#089981"/>
<rect x="1465" y="407.9" width="2" height="45.8" fill="#F23645"/>
<rect x="1461" y="411.0" width="10" height="29.4" fill="#F23645"/>
<rect x="1477" y="431.0" width="2" height="113.9" fill="#F23645"/>
<rect x="1473" y="437.3" width="10" height="102.3" fill="#F23645"/>
<rect x="1489" y="522.0" width="2" height="45.6" fill="#F23645"/>
<rect x="1485" y="527.2" width="10" height="11.4" fill="#F23645"/>
<rect x="1501" y="487.7" width="2" height="93.1" fill="#089981"/>
<rect x="1497" y="531.2" width="10" height="11.6" fill="#089981"/>
<rect x="1513" y="510.2" width="2" height="39.5" fill="#089981"/>
<rect x="1509" y="530.2" width="10" height="5.2" fill="#089981"/>
<rect x="1525" y="501.0" width="2" height="41.8" fill="#F23645"/>
<rect x="1521" y="531.2" width="10" height="4.2" fill="#F23645"/>
<rect x="1537" y="508.3" width="2" height="28.2" fill="#089981"/>
<rect x="1533" y="510.2" width="10" height="26.3" fill="#089981"/>
<rect x="1549" y="456.8" width="2" height="54.7" fill="#089981"/>
<rect x="1545" y="508.0" width="10" height="2.0" fill="#089981"/>
<rect x="1561" y="434.6" width="2" height="69.9" fill="#089981"/>
<rect x="1557" y="436.2" width="10" height="68.3" fill="#089981"/>
<rect x="1573" y="393.9" width="2" height="59.0" fill="#089981"/>
<rect x="1569" y="423.0" width="10" height="16.7" fill="#089981"/>
<rect x="1585" y="393.0" width="2" height="58.6" fill="#F23645"/>
<rect x="1581" y="417.2" width="10" height="11.5" fill="#F23645"/>
<rect x="1597" y="422.1" width="2" height="57.9" fill="#089981"/>
<rect x="1593" y="435.1" width="10" height="4.6" fill="#089981"/>
<rect x="1609" y="405.8" width="2" height="29.1" fill="#089981"/>
<rect x="1605" y="415.9" width="10" height="17.8" fill="#089981"/>
<rect x="1621" y="405.8" width="2" height="45.3" fill="#F23645"/>
<rect x="1617" y="424.0" width="10" height="22.5" fill="#F23645"/>
<rect x="1633" y="405.8" width="2" height="59.0" fill="#089981"/>
<rect x="1629" y="430.0" width="10" height="26.0" fill="#089981"/>
<rect x="1645" y="421.8" width="2" height="34.8" fill="#F23645"/>
<rect x="1641" y="431.8" width="10" height="13.8" fill="#F23645"/>
<rect x="1657" y="314.9" width="2" height="117.8" fill="#089981"/>
<rect x="1653" y="339.9" width="10" height="68.7" fill="#089981"/>
<rect x="1669" y="205.0" width="2" height="148.6" fill="#089981"/>
<rect x="1665" y="278.9" width="10" height="64.6" fill="#089981"/>
<rect x="1681" y="246.9" width="2" height="73.6" fill="#F23645"/>
<rect x="1677" y="264.8" width="10" height="44.7" fill="#F23645"/>
<rect x="1693" y="234.9" width="2" height="88.9" fill="#089981"/>
<rect x="1689" y="278.0" width="10" height="43.7" fill="#089981"/>
<rect x="1705" y="229.9" width="2" height="69.6" fill="#F23645"/>
<rect x="1701" y="281.0" width="10" height="18.5" fill="#F23645"/>
<rect x="1717" y="214.2" width="2" height="24.3" fill="#089981"/>
<rect x="1713" y="215.0" width="10" height="23.5" fill="#089981"/>
<line x1="20" y1="215" x2="1844" y2="215" stroke="#089981" stroke-width="2" stroke-dasharray="2 4"/>
<text x="20.3" y="40.3" font-family='"Liberation Sans", sans-serif' font-size="25.5" font-weight="normal" fill="#000000" text-anchor="start" textLength="639" lengthAdjust="spacingAndGlyphs">Created with TradingView.com, Mar 08, 2026 23:50 UTC</text>
<text x="37.1" y="94" font-family='"Liberation Sans", sans-serif' font-size="24.7" font-weight="normal" fill="#000000" text-anchor="start" textLength="375.5" lengthAdjust="spacingAndGlyphs">US Dollar Index · 1D · Capital.com</text>
<text x="427.9" y="94" font-family='"Liberation Sans", sans-serif' font-size="24.7" font-weight="normal" fill="#000000" text-anchor="start">O</text>
<text x="446" y="94" font-family='"Liberation Sans", sans-serif' font-size="24.7" font-weight="normal" fill="#089981" text-anchor="start" textLength="76" lengthAdjust="spacingAndGlyphs">99.074</text>
<text x="538" y="94" font-family='"Liberation Sans", sans-serif' font-size="24.7" font-weight="normal" fill="#000000" text-anchor="start">H</text>
<text x="556" y="94" font-family='"Liberation Sans", sans-serif' font-size="24.7" font-weight="normal" fill="#089981" text-anchor="start" textLength="77.4" lengthAdjust="spacingAndGlyphs">99.276</text>
<text x="649.7" y="94" font-family='"Liberation Sans", sans-serif' font-size="24.7" font-weight="normal" fill="#000000" text-anchor="start">L</text>
<text x="662.4" y="94" font-family='"Liberation Sans", sans-serif' font-size="24.7" font-weight="normal" fill="#089981" text-anchor="start" textLength="79.3" lengthAdjust="spacingAndGlyphs">99.069</text>
<text x="757" y="94" font-family='"Liberation Sans", sans-serif' font-size="24.7" font-weight="normal" fill="#000000" text-anchor="start">C</text>
<text x="774.8" y="94" font-family='"Liberation Sans", sans-serif' font-size="24.7" font-weight="normal" fill="#089981" text-anchor="start" textLength="76.6" lengthAdjust="spacingAndGlyphs">99.270</text>
<text x="867.5" y="94" font-family='"Liberation Sans", sans-serif' font-size="24.7" font-weight="normal" fill="#089981" text-anchor="start" textLength="187.4" lengthAdjust="spacingAndGlyphs">+0.705 (+0.72%)</text>
<text x="37" y="128" font-family='"Liberation Sans", sans-serif' font-size="24.7" font-weight="normal" fill="#000000" text-anchor="start" textLength="113.3" lengthAdjust="spacingAndGlyphs">Vol · Ticks</text>
<text x="165.9" y="128" font-family='"Liberation Sans", sans-serif' font-size="24.7" font-weight="normal" fill="#26A69A" text-anchor="start" textLength="52.7" lengthAdjust="spacingAndGlyphs">2.6 K</text>
<text x="1861.5" y="137.2" font-family='"Liberation Sans", sans-serif' font-size="24.7" font-weight="normal" fill="#000000" text-anchor="start" textLength="94" lengthAdjust="spacingAndGlyphs">100.000</text>
<text x="1861.5" y="255.2" font-family='"Liberation Sans", sans-serif' font-size="24.7" font-weight="normal" fill="#000000" text-anchor="start" textLength="79.5" lengthAdjust="spacingAndGlyphs">99.000</text>
<text x="1861.5" y="373.2" font-family='"Liberation Sans", sans-serif' font-size="24.7" font-weight="normal" fill="#000000" text-anchor="start" textLength="79.5" lengthAdjust="spacingAndGlyphs">98.000</text>
<text x="1861.5" y="492.2" font-family='"Liberation Sans", sans-serif' font-size="24.7" font-weight="normal" fill="#000000" text-anchor="start" textLength="79.5" lengthAdjust="spacingAndGlyphs">97.000</text>
<text x="1861.5" y="610.2" font-family='"Liberation Sans", sans-serif' font-size="24.7" font-weight="normal" fill="#000000" text-anchor="start" textLength="79.5" lengthAdjust="spacingAndGlyphs">96.000</text>
<text x="1861.5" y="729.2" font-family='"Liberation Sans", sans-serif' font-size="24.7" font-weight="normal" fill="#000000" text-anchor="start" textLength="79.5" lengthAdjust="spacingAndGlyphs">95.000</text>
<text x="122" y="789.7" font-family='"Liberation Sans", sans-serif' font-size="23.5" font-weight="normal" fill="#000000" text-anchor="middle">Sep</text>
<text x="386" y="789.7" font-family='"Liberation Sans", sans-serif' font-size="23.5" font-weight="normal" fill="#000000" text-anchor="middle">Oct</text>
<text x="662" y="789.7" font-family='"Liberation Sans", sans-serif' font-size="23.5" font-weight="normal" fill="#000000" text-anchor="middle">Nov</text>
<text x="902" y="789.7" font-family='"Liberation Sans", sans-serif' font-size="23.5" font-weight="normal" fill="#000000" text-anchor="middle">Dec</text>
<text x="1418" y="789.7" font-family='"Liberation Sans", sans-serif' font-size="23.5" font-weight="normal" fill="#000000" text-anchor="middle">Feb</text>
<text x="1658" y="789.7" font-family='"Liberation Sans", sans-serif' font-size="23.5" font-weight="normal" fill="#000000" text-anchor="middle">Mar</text>
<text x="1135" y="789.7" font-family='"Liberation Sans", sans-serif' font-size="23.5" font-weight="bold" fill="#000000" text-anchor="start" textLength="62" lengthAdjust="spacingAndGlyphs">2026</text>
<path d="M1846 198 H1951 Q1954 198 1954 201 V229 Q1954 232 1951 232 H1846 Z" fill="#089981"/>
<text x="1861.3" y="223" font-family='"Liberation Sans", sans-serif' font-size="24.7" font-weight="normal" fill="#ffffff" text-anchor="start" textLength="80" lengthAdjust="spacingAndGlyphs">99.270</text>
<path d="M1846 718 H1925 Q1928 718 1928 721 V749 Q1928 752 1925 752 H1846 Z" fill="#26A69A"/>
<text x="1862" y="743.1" font-family='"Liberation Sans", sans-serif' font-size="24.7" font-weight="normal" fill="#ffffff" text-anchor="start" textLength="53.6" lengthAdjust="spacingAndGlyphs">2.6 K</text>
<g fill="#111111">
<path d="M24 852 H48 V882 H36 V864 H24 Z"/>
<circle cx="58.1" cy="857.7" r="6"/>
<path d="M69 852 H84 L72 882 H58 Z"/>
</g>
<g fill="#111111">
<rect x="98.1" y="852" width="21.8" height="5.8"/>
<rect x="106.1" y="852" width="5.8" height="29.8"/>
<path d="M120 860 H125.9 V864.5 C127.6 861.3 130 860 132.9 860 V865.8 C128.6 865.8 125.9 868.6 125.9 873.2 V881.8 H120 Z"/>
<circle cx="144.6" cy="871" r="8.6" fill="none" stroke="#111111" stroke-width="5.5"/>
<rect x="150.1" y="860" width="5.8" height="21.8"/>
<circle cx="170.7" cy="871" r="8.6" fill="none" stroke="#111111" stroke-width="5.5"/>
<rect x="176.1" y="852" width="5.8" height="29.8"/>
<circle cx="189" cy="854.4" r="3.8"/>
<rect x="186.1" y="860" width="5.8" height="21.8"/>
<rect x="196" y="860" width="5.8" height="21.8"/>
<path d="M196 881.8 V869.25 A9.95 9.95 0 0 1 215.9 869.25 V881.8 H210.1 V869.25 A4.15 4.15 0 0 0 201.8 869.25 V881.8 Z"/>
<circle cx="230.8" cy="870.6" r="8.6" fill="none" stroke="#111111" stroke-width="5.5"/>
<rect x="235.8" y="860.1" width="6" height="21.5"/>
<path d="M241.8 881 C241.8 888.3 237 891.7 230.6 891.7 C226.2 891.7 222.6 890.2 220 887.6 L223.9 883.8 C225.6 885.4 227.8 886.2 230.6 886.2 C233.9 886.2 235.8 884.6 235.8 881 Z"/>
<path d="M241.2 852 H247.9 L256.6 874.5 L265.2 852 H271.5 L260 881.8 H254 Z"/>
<circle cx="277" cy="854.3" r="3.7"/>
<rect x="274" y="860.3" width="6" height="21.5"/>
<path d="M294.8 859.2 C301.5 859.2 306 864 306 870 V871.7 H289.4 C290 875.2 292.2 876.9 295.2 876.9 C297.5 876.9 299.3 876 300.5 874.2 L305.2 877.6 C303 880.8 299.5 882.4 295 882.4 C288 882.4 283.6 877.5 283.6 870.8 C283.6 864 288.2 859.2 294.8 859.2 Z M289.6 868.1 H300.2 C299.6 865.6 297.6 864.2 294.9 864.2 C292.2 864.2 290.3 865.6 289.6 868.1 Z" fill-rule="evenodd"/>
<path d="M306 860.2 H312 L316 873.7 L319.9 860.2 H326.4 L331.2 873.7 L333.8 860.2 H339.9 L334.2 881.8 H328.3 L323.1 869.2 L318.6 881.8 H313 Z"/>
</g>
</svg>
</body></html>
